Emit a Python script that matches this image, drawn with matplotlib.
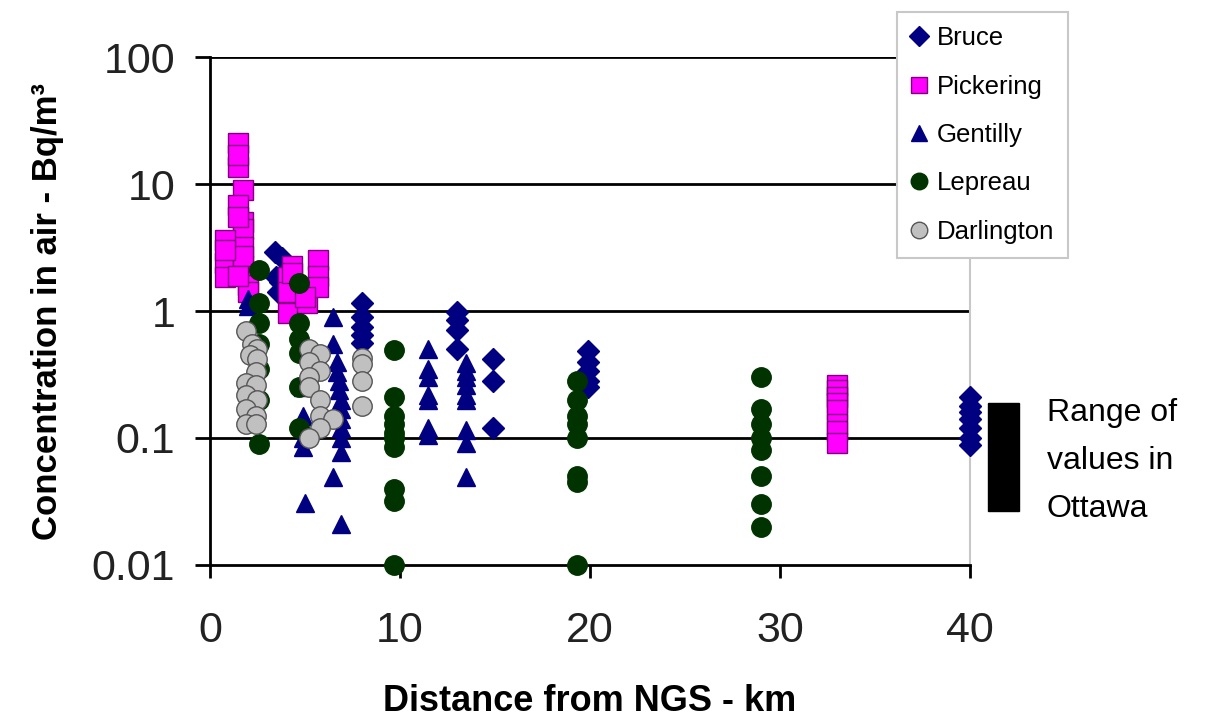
import numpy as np
import matplotlib
matplotlib.use('Agg')
import matplotlib.pyplot as plt
from matplotlib.patches import Rectangle
from matplotlib.ticker import FixedLocator, FixedFormatter, NullLocator

plt.rcParams['font.family'] = ['Liberation Sans', 'DejaVu Sans']

# Data (distance in km, concentration in Bq/m3)
bruce_x = [3.4, 3.8, 3.5, 3.6, 3.7,
           8.0, 8.0, 8.0, 8.0, 8.0,
           13.0, 13.0, 13.0, 13.0,
           14.9, 14.9, 14.9,
           19.9, 19.9, 19.9, 19.9, 19.9,
           40, 40, 40, 40, 40, 40, 40]
bruce_y = [2.9, 2.6, 1.85, 1.4, 1.7,
           1.15, 0.9, 0.75, 0.65, 0.56,
           0.98, 0.85, 0.71, 0.5,
           0.42, 0.28, 0.12,
           0.48, 0.4, 0.34, 0.28, 0.25,
           0.21, 0.18, 0.16, 0.14, 0.12, 0.1, 0.088]

pick_x = [1.45, 1.45, 1.75, 1.45, 1.75, 1.75, 1.75, 0.8, 0.8, 1.75, 0.8, 2.0, 2.0,
          1.45, 1.45, 1.75, 0.8, 1.5,
          4.3, 4.1, 4.1, 4.1, 5.1, 5.7, 5.7, 5.7, 4.3, 5.0,
          33, 33, 33, 33, 33, 33, 33, 33]
pick_y = [21, 13.5, 8.9, 6.8, 5.0, 4.4, 3.2, 3.6, 2.4, 2.25, 1.85, 1.6, 1.4,
          17, 5.5, 2.7, 3.0, 1.9,
          2.25, 1.85, 1.4, 0.97, 1.16, 2.5, 1.9, 1.55, 2.0, 1.3,
          0.26, 0.24, 0.21, 0.19, 0.165, 0.13, 0.113, 0.091]

gent_x = [2.0, 2.0,
          4.9, 4.9, 4.9, 4.9, 4.9, 5.0,
          6.5, 6.5, 6.7, 6.7, 6.8, 6.8, 6.9, 6.9, 6.9, 6.9, 6.9, 6.9, 6.5, 6.9,
          11.5, 11.5, 11.5, 11.5, 11.5, 11.5, 11.5,
          13.5, 13.5, 13.5, 13.5, 13.5, 13.5, 13.5, 13.5, 13.5]
gent_y = [1.25, 1.1,
          0.25, 0.15, 0.12, 0.1, 0.085, 0.031,
          0.89, 0.55, 0.4, 0.33, 0.28, 0.24, 0.2, 0.17, 0.14, 0.12, 0.1, 0.078, 0.049, 0.021,
          0.5, 0.35, 0.3, 0.22, 0.2, 0.12, 0.105,
          0.39, 0.34, 0.3, 0.26, 0.22, 0.2, 0.116, 0.091, 0.049]

lep_x = [2.6] * 7 + [4.7] * 6 + [9.7] * 10 + [19.3] * 8 + [29.0] * 8
lep_y = [2.1, 1.15, 0.8, 0.55, 0.35, 0.2, 0.09,
         1.65, 0.8, 0.6, 0.47, 0.25, 0.12,
         0.49, 0.21, 0.15, 0.13, 0.11, 0.1, 0.085, 0.04, 0.032, 0.01,
         0.28, 0.2, 0.15, 0.13, 0.1, 0.05, 0.045, 0.01,
         0.3, 0.17, 0.13, 0.1, 0.08, 0.05, 0.03, 0.02]

dar_x = [1.9, 2.2, 2.5, 2.1, 2.5, 2.4, 1.9, 2.4, 1.9, 2.5, 1.9, 2.4, 1.9, 2.4,
         5.2, 5.8, 5.2, 5.8, 5.2, 5.2, 5.8, 5.8, 6.5, 5.8, 5.2,
         8.0, 8.0, 8.0, 8.0]
dar_y = [0.7, 0.55, 0.5, 0.45, 0.42, 0.33, 0.27, 0.26, 0.22, 0.2, 0.17, 0.15, 0.13, 0.13,
         0.5, 0.46, 0.4, 0.34, 0.3, 0.25, 0.2, 0.15, 0.14, 0.12, 0.1,
         0.43, 0.38, 0.28, 0.18]

ottawa_x = [40.95, 42.58]
ottawa_y = [0.0266, 0.189]

y_ticks = [0.01, 0.1, 1, 10, 100]
y_labels = ['0.01', '0.1', '1', '10', '100']
x_ticks = [0, 10, 20, 30, 40]

fig = plt.figure(figsize=(12.13, 7.18), dpi=100)
ax = fig.add_axes([0.1731, 0.2131, 0.6266, 0.7075])

ax.plot(bruce_x, bruce_y, linestyle='none', marker='D', ms=11.5, color='#000080',
        mec='#000080', label='Bruce', clip_on=False, zorder=3)
ax.plot(pick_x, pick_y, linestyle='none', marker='s', ms=14, color='#FF00FF',
        mec='#800080', mew=1.0, label='Pickering', clip_on=False, zorder=3)
ax.plot(gent_x, gent_y, linestyle='none', marker='^', ms=13, color='#000080',
        mec='#000080', label='Gentilly', clip_on=False, zorder=3)
ax.plot(lep_x, lep_y, linestyle='none', marker='o', ms=14, color='#003300',
        mec='#003300', label='Lepreau', clip_on=False, zorder=3)
ax.plot(dar_x, dar_y, linestyle='none', marker='o', ms=14, color='#C0C0C0',
        mec='#555555', mew=1.0, label='Darlington', clip_on=False, zorder=3)

ax.set_yscale('log')
ax.set_xlim(0, 40)
ax.set_ylim(0.01, 100)
ax.yaxis.set_major_locator(FixedLocator(y_ticks))
ax.yaxis.set_major_formatter(FixedFormatter(y_labels))
ax.yaxis.set_minor_locator(NullLocator())
ax.set_xticks(x_ticks)

for v in y_ticks[1:]:
    ax.axhline(v, color='black', lw=2, zorder=1)

ax.spines['top'].set_visible(False)
ax.spines['right'].set_color('#C8C8C8')
ax.spines['right'].set_linewidth(1.5)
ax.spines['left'].set_linewidth(2)
ax.spines['bottom'].set_linewidth(2)

ax.tick_params(axis='y', direction='out', length=11, width=2, pad=14, labelsize=31, colors='black')
ax.tick_params(axis='x', direction='out', length=9, width=2, pad=24, labelsize=31, colors='black')
for lab in ax.get_xticklabels() + ax.get_yticklabels():
    lab.set_color('#222222')

ax.set_xlabel('Distance from NGS - km', fontsize=26, fontweight='bold', labelpad=24)
ax.set_ylabel('Concentration in air - Bq/m³', fontsize=25, fontweight='bold', labelpad=20)

# Ottawa range bar
ax.add_patch(Rectangle((ottawa_x[0], ottawa_y[0]), ottawa_x[1] - ottawa_x[0],
                       ottawa_y[1] - ottawa_y[0], color='black', clip_on=False))
fig.text(1047 / 1213, 1 - 398 / 718, 'Range of\nvalues in\nOttawa', fontsize=23,
         ha='left', va='top', linespacing=1.78)

leg = ax.legend(loc='upper left', bbox_to_anchor=(897 / 1213, 1 - 12 / 718),
                bbox_transform=fig.transFigure, borderaxespad=0, fontsize=18.5,
                markerscale=0.85, handlelength=0.6, handletextpad=0.4,
                labelspacing=0.95, borderpad=0.55, fancybox=False, framealpha=1)
leg.get_frame().set_edgecolor('#C8C8C8')
leg.get_frame().set_linewidth(1.5)

fig.savefig('out.png', dpi=100)
